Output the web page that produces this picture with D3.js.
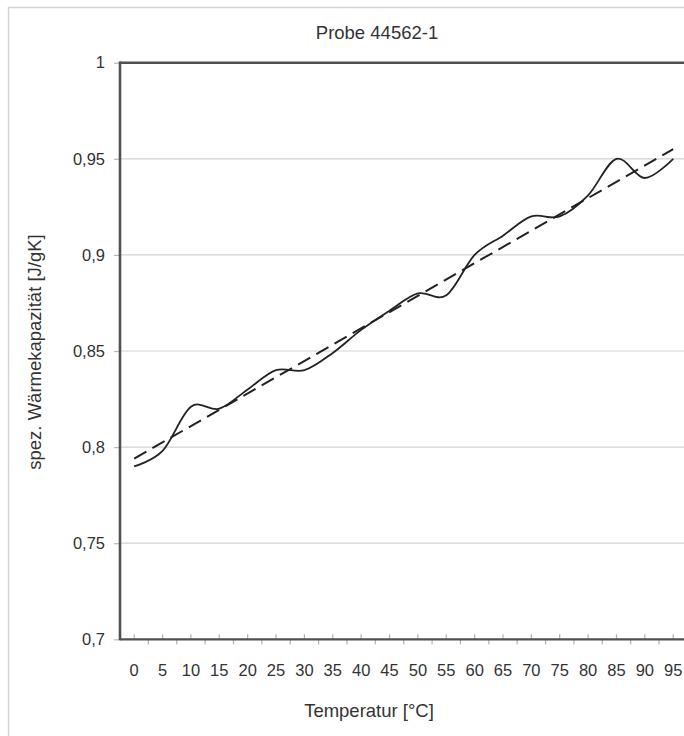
<!DOCTYPE html>
<html>
<head>
<meta charset="utf-8">
<script src="https://cdn.jsdelivr.net/npm/d3@7"></script>
<style>
  html, body { margin: 0; padding: 0; background: #fff; }
  svg { display: block; font-family: "Liberation Sans", Arial, sans-serif; }
</style>
</head>
<body>
<svg id="chart" width="684" height="736"></svg>
<script>
// ---- data ----
const chartTitle = "Probe 44562-1";
const xTitle = "Temperatur [°C]";
const yTitle = "spez. Wärmekapazität [J/gK]";
const categories = [0, 5, 10, 15, 20, 25, 30, 35, 40, 45, 50, 55, 60, 65, 70, 75, 80, 85, 90, 95];
const heatCapacity = [0.790, 0.798, 0.821, 0.820, 0.830, 0.840, 0.840, 0.849, 0.861, 0.871, 0.880, 0.879, 0.900, 0.910, 0.920, 0.920, 0.931, 0.950, 0.940, 0.950];
const trendCategories = [0, 95];
const trendValues = [0.794, 0.955];
const yTicks = [0.7, 0.75, 0.8, 0.85, 0.9, 0.95, 1];
const yTickLabels = ["0,7", "0,75", "0,8", "0,85", "0,9", "0,95", "1"];

// ---- layout ----
const svg = d3.select("#chart");
const plotLeft = 120, plotTop = 62.7, plotBottom = 639.3, band = 28.37;
const plotRight = plotLeft + band * categories.length;

const x = d3.scaleBand().domain(categories).range([plotLeft, plotRight]).padding(0);
const y = d3.scaleLinear().domain([0.7, 1]).range([plotBottom, plotTop]);
const cx = c => x(c) + x.bandwidth() / 2;

// outer chart border
svg.append("rect").attr("x", 8.5).attr("y", 7.5).attr("width", 760).attr("height", 760)
  .attr("fill", "#fff").attr("stroke", "#d4d4d4").attr("stroke-width", 1.5);

// gridlines
svg.append("g").selectAll("line").data(yTicks.filter(d => d > 0.7 && d < 1)).join("line")
  .attr("x1", plotLeft).attr("x2", plotRight)
  .attr("y1", d => y(d)).attr("y2", d => y(d))
  .attr("stroke", "#d2d2d2").attr("stroke-width", 1.2);

// y axis
const yAxis = d3.axisLeft(y).tickValues(yTicks)
  .tickFormat((d, i) => yTickLabels[i]).tickSize(6).tickPadding(9);
const gy = svg.append("g").attr("transform", `translate(${plotLeft},0)`).call(yAxis);
gy.select(".domain").remove();
gy.selectAll(".tick line").attr("stroke", "#b8b8b8").attr("stroke-width", 1.2);
gy.selectAll(".tick text").attr("fill", "#333").style("font-size", "16.5px");

// x axis (labels centered in bands)
const xAxis = d3.axisBottom(x).tickSize(0).tickPadding(25);
const gx = svg.append("g").attr("transform", `translate(0,${plotBottom})`).call(xAxis);
gx.select(".domain").remove();
gx.selectAll(".tick text").attr("fill", "#333").style("font-size", "16.5px");
// boundary tick marks (outside) and centre tick marks (inside)
svg.append("g").selectAll("line").data(categories.slice(1)).join("line")
  .attr("x1", d => x(d)).attr("x2", d => x(d))
  .attr("y1", plotBottom).attr("y2", plotBottom + 5)
  .attr("stroke", "#b0b0b0").attr("stroke-width", 1.2);
svg.append("g").selectAll("line").data(categories).join("line")
  .attr("x1", d => cx(d)).attr("x2", d => cx(d))
  .attr("y1", plotBottom).attr("y2", plotBottom - 5)
  .attr("stroke", "#b0b0b0").attr("stroke-width", 1.2);

// plot frame lines
svg.append("line").attr("x1", plotLeft).attr("x2", plotRight + 2).attr("y1", plotTop).attr("y2", plotTop)
  .attr("stroke", "#505050").attr("stroke-width", 2.6);
svg.append("line").attr("x1", plotLeft).attr("x2", plotLeft).attr("y1", plotTop - 1.3).attr("y2", plotBottom + 1)
  .attr("stroke", "#505050").attr("stroke-width", 2.6);
svg.append("line").attr("x1", plotLeft).attr("x2", plotRight + 2).attr("y1", plotBottom).attr("y2", plotBottom)
  .attr("stroke", "#505050").attr("stroke-width", 2.2);

// trend line (dashed)
const trendData = trendCategories.map((c, i) => ({ c, v: trendValues[i] }));
svg.append("path").datum(trendData)
  .attr("d", d3.line().x(d => cx(d.c)).y(d => y(d.v)))
  .attr("fill", "none").attr("stroke", "#222").attr("stroke-width", 2)
  .attr("stroke-dasharray", "14,7");

// measured curve (smoothed)
const data = categories.map((c, i) => ({ c, v: heatCapacity[i] }));
svg.append("path").datum(data)
  .attr("d", d3.line().x(d => cx(d.c)).y(d => y(d.v)).curve(d3.curveCatmullRom.alpha(0)))
  .attr("fill", "none").attr("stroke", "#222").attr("stroke-width", 1.8);

// titles
svg.append("text").attr("x", 377).attr("y", 39).attr("text-anchor", "middle")
  .attr("fill", "#333").style("font-size", "18.5px").text(chartTitle);
svg.append("text").attr("x", 369).attr("y", 717).attr("text-anchor", "middle")
  .attr("fill", "#333").style("font-size", "18.5px").text(xTitle);
svg.append("text").attr("transform", "translate(41,352) rotate(-90)").attr("text-anchor", "middle")
  .attr("fill", "#333").style("font-size", "18.5px").text(yTitle);
</script>
</body>
</html>
